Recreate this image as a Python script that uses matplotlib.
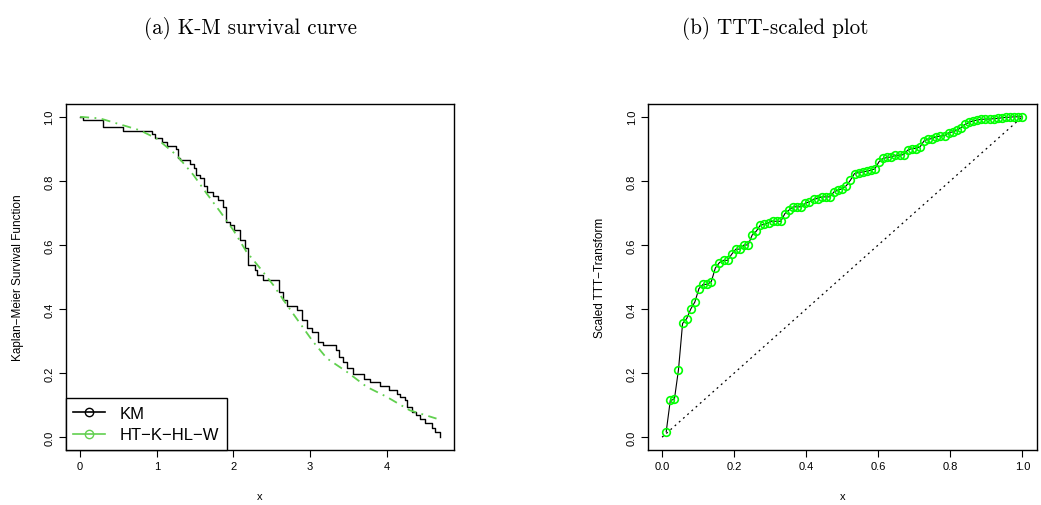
import numpy as np
import matplotlib
matplotlib.use('Agg')
import matplotlib.pyplot as plt
from matplotlib.lines import Line2D

plt.rcParams['font.family'] = ['Liberation Sans', 'DejaVu Sans']

# Kaplan-Meier step points (time, survival after the step)
km_time = [0, 0.04, 0.30, 0.56, 0.935, 0.978, 1.074, 1.13, 1.248, 1.283, 1.30,
           1.43, 1.49, 1.515, 1.565, 1.617, 1.65, 1.74, 1.80, 1.87, 1.90, 1.957,
           2.01, 2.08, 2.15, 2.196, 2.28, 2.31, 2.39, 2.60, 2.65, 2.70, 2.826,
           2.89, 2.956, 3.02, 3.11, 3.17, 3.34, 3.38, 3.43, 3.48, 3.565, 3.70,
           3.78, 3.91, 4.03, 4.13, 4.17, 4.24, 4.27, 4.33, 4.38, 4.44, 4.50,
           4.59, 4.63, 4.69]
km_surv = [1.0, 0.989, 0.967, 0.955, 0.946, 0.933, 0.922, 0.909, 0.899, 0.870,
           0.865, 0.854, 0.840, 0.818, 0.808, 0.785, 0.764, 0.753, 0.740, 0.720,
           0.672, 0.662, 0.646, 0.615, 0.589, 0.537, 0.521, 0.506, 0.490, 0.454,
           0.428, 0.410, 0.396, 0.366, 0.341, 0.329, 0.298, 0.287, 0.272, 0.251,
           0.235, 0.216, 0.196, 0.183, 0.171, 0.160, 0.147, 0.136, 0.126, 0.116,
           0.095, 0.079, 0.069, 0.058, 0.043, 0.029, 0.017, 0.0]

# fitted HT-K-HL-W survival curve
fit_x = [0, 0.26, 0.78, 1.0, 1.26, 1.48, 1.65, 1.83, 2.0, 2.17, 2.35, 2.52,
         2.70, 2.87, 3.04, 3.22, 3.48, 3.74, 4.0, 4.30, 4.65]
fit_s = [1.0, 0.995, 0.958, 0.932, 0.880, 0.818, 0.761, 0.703, 0.646, 0.579,
         0.527, 0.475, 0.412, 0.355, 0.298, 0.246, 0.204, 0.157, 0.126, 0.084,
         0.058]

# scaled TTT transform values at i/n
ttt = [0.017, 0.115, 0.118, 0.211, 0.355, 0.370, 0.400, 0.422, 0.464, 0.477,
       0.477, 0.485, 0.528, 0.545, 0.552, 0.552, 0.571, 0.587, 0.587, 0.600,
       0.600, 0.631, 0.643, 0.662, 0.664, 0.670, 0.674, 0.674, 0.674, 0.698,
       0.709, 0.719, 0.719, 0.719, 0.730, 0.735, 0.743, 0.745, 0.750, 0.750,
       0.750, 0.766, 0.771, 0.776, 0.785, 0.802, 0.823, 0.826, 0.828, 0.830,
       0.833, 0.838, 0.860, 0.870, 0.873, 0.875, 0.880, 0.880, 0.882, 0.896,
       0.901, 0.901, 0.906, 0.925, 0.930, 0.932, 0.938, 0.940, 0.941, 0.950,
       0.953, 0.958, 0.966, 0.976, 0.983, 0.987, 0.990, 0.992, 0.993, 0.993,
       0.994, 0.995, 0.997, 0.998, 0.999, 1.0, 1.0, 1.0]
ttt_x = np.arange(1, len(ttt) + 1) / len(ttt)

km_green = '#61D04F'

fig = plt.figure(figsize=(10.41, 5.06), dpi=100)
ax1 = fig.add_axes([0.0631, 0.1087, 0.373, 0.6838])
ax2 = fig.add_axes([0.6222, 0.1087, 0.3737, 0.6838])


def r_style(ax):
    for s in ax.spines.values():
        s.set_linewidth(1.0)
    ax.tick_params(direction='out', length=5, width=0.8, labelsize=8, pad=3)
    ax.set_yticks([0, 0.2, 0.4, 0.6, 0.8, 1.0])


# (a) K-M survival curve
ax1.step(km_time, km_surv, where='post', color='black', lw=1.0)
ax1.plot(fit_x, fit_s, color=km_green, lw=1.3, linestyle=(0, (5, 3, 1, 3)))
ax1.set_xlim(-0.188, 4.878)
ax1.set_ylim(-0.04, 1.04)
ax1.set_xticks([0, 1, 2, 3, 4])
r_style(ax1)
ax1.set_yticklabels(['0.0', '0.2', '0.4', '0.6', '0.8', '1.0'], rotation=90, va='center')
ax1.set_xlabel('x', fontsize=8, labelpad=14)
ax1.set_ylabel('Kaplan\u2212Meier Survival Function', fontsize=8.5, labelpad=15)

handles = [Line2D([], [], color='black', marker='o', mfc='none', lw=1.2, ms=6),
           Line2D([], [], color=km_green, marker='o', mfc='none', lw=1.2, ms=6)]
leg = ax1.legend(handles, ['KM', 'HT\u2212K\u2212HL\u2212W'], loc='lower left',
                 borderaxespad=0, fontsize=12, handlelength=1.9, handletextpad=0.9,
                 borderpad=0.45, labelspacing=0.4, fancybox=False, framealpha=1)
leg.get_frame().set_edgecolor('black')
leg.get_frame().set_linewidth(1.0)

# (b) TTT-scaled plot
ax2.plot([0, 1], [0, 1], color='black', lw=0.9, linestyle=(0, (1.5, 3)))
ax2.plot(ttt_x, ttt, color='black', lw=0.8, marker='o', mfc='none',
         mec='#00FF00', ms=5.5, mew=1.2)
ax2.set_xlim(-0.04, 1.04)
ax2.set_ylim(-0.04, 1.04)
ax2.set_xticks([0, 0.2, 0.4, 0.6, 0.8, 1.0])
ax2.set_xticklabels(['0.0', '0.2', '0.4', '0.6', '0.8', '1.0'])
r_style(ax2)
ax2.set_yticklabels(['0.0', '0.2', '0.4', '0.6', '0.8', '1.0'], rotation=90, va='center')
ax2.set_xlabel('x', fontsize=8, labelpad=14)
ax2.set_ylabel('Scaled TTT\u2212Transform', fontsize=8.5, labelpad=15)

fig.text(250 / 1041, 1 - 29 / 506, '(a) K-M survival curve', family='cmr10',
         fontsize=15.2, ha='center', va='center')
fig.text(775 / 1041, 1 - 29 / 506, '(b) TTT-scaled plot', family='cmr10',
         fontsize=15.2, ha='center', va='center')

fig.savefig('out.png', dpi=100)
